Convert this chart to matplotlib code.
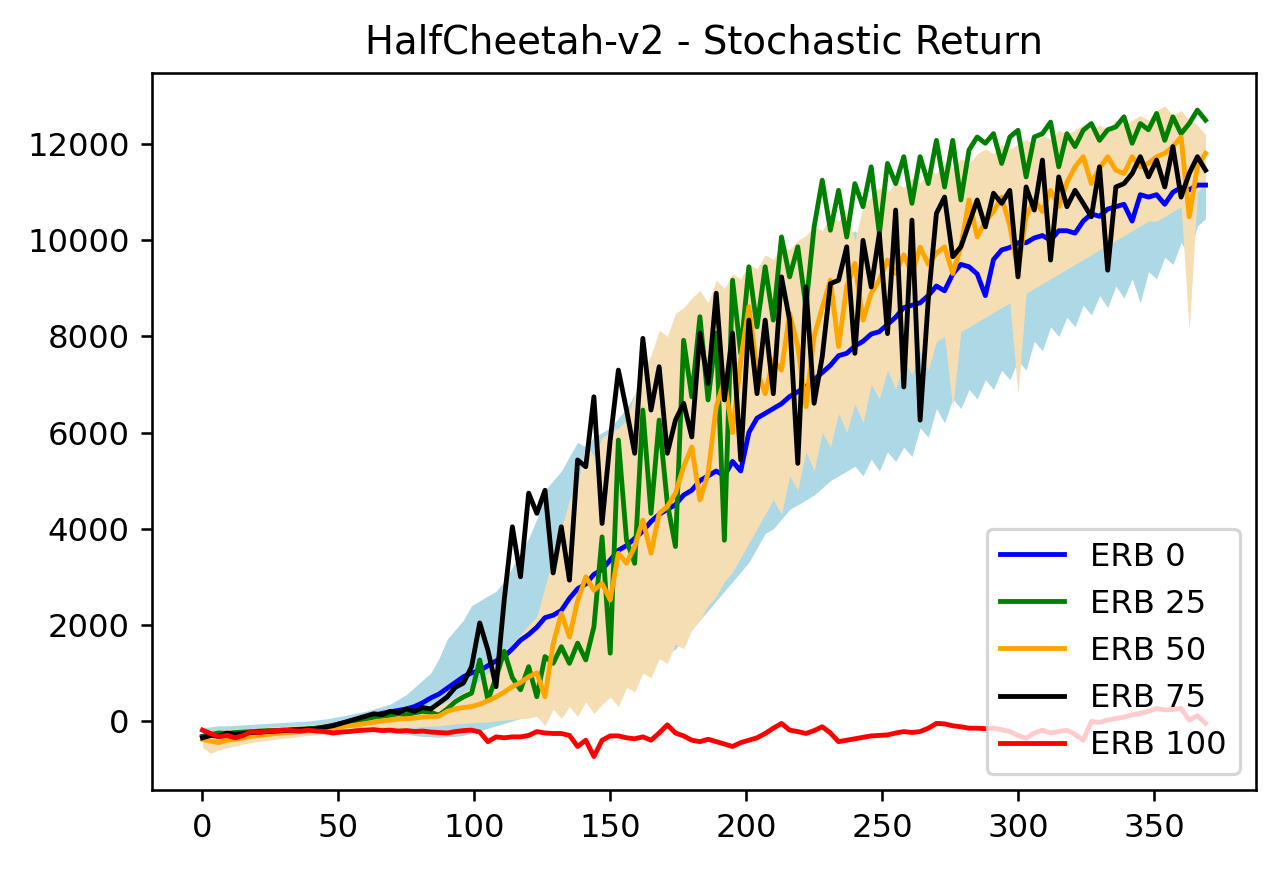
import numpy as np
import matplotlib
matplotlib.use("Agg")
import matplotlib.pyplot as plt

# evaluation steps (every 3rd iteration)
steps = np.arange(0, 370, 3)

erb0 = [
    -320, -280, -300, -260, -280, -250, -240, -230, -220, -210,
    -200, -190, -180, -170, -150, -130, -90, -50, -10, 30,
    70, 110, 160, 190, 220, 250, 300, 380, 480, 560,
    680, 800, 920, 1000, 1050, 1150, 1250, 1340, 1500, 1680,
    1800, 1950, 2150, 2200, 2300, 2550, 2750, 2850, 3050, 3150,
    3350, 3550, 3650, 3800, 3950, 4150, 4300, 4400, 4500, 4700,
    4800, 5000, 5100, 5200, 5100, 5400, 5200, 6000, 6300, 6400,
    6500, 6600, 6750, 6850, 6950, 7100, 7250, 7400, 7600, 7650,
    7800, 7900, 8050, 8100, 8250, 8400, 8600, 8650, 8700, 8850,
    9050, 8950, 9300, 9500, 9450, 9300, 8850, 9600, 9800, 9850,
    9950, 9950, 10050, 10100, 10000, 10200, 10200, 10150, 10400, 10550,
    10500, 10650, 10700, 10750, 10400, 10950, 10900, 10950, 10750, 11000,
    11100, 11050, 11150, 11150]

erb25 = [
    -330, -280, -250, -260, -240, -230, -220, -210, -200, -200,
    -190, -180, -170, -160, -150, -120, -100, -60, -20, 10,
    40, 80, 100, 120, 150, 130, 170, 200, 180, 120,
    250, 400, 500, 580, 1270, 440, 900, 1450, 900, 650,
    1130, 505, 1340, 1200, 1545, 1200, 1620, 1270, 1960, 3830,
    1410, 5845, 3760, 3280, 6470, 4320, 6260, 4530, 3630, 7920,
    6745, 8410, 6680, 8070, 3760, 9170, 7650, 9450, 8200, 9450,
    8340, 10070, 9240, 9865, 8620, 10280, 11250, 10210, 11040, 10070,
    11180, 10700, 11530, 10140, 11600, 11180, 11740, 10770, 11740, 11180,
    12080, 11110, 12080, 10840, 11880, 12150, 12020, 12220, 11600, 12150,
    12290, 11320, 12150, 12220, 12460, 11530, 12220, 11950, 12290, 12430,
    12080, 12300, 12360, 12570, 12020, 12430, 12300, 12640, 12080, 12570,
    12220, 12430, 12710, 12500]

erb50 = [
    -380, -420, -450, -400, -380, -350, -320, -300, -280, -260,
    -250, -230, -220, -200, -190, -170, -150, -120, -100, -80,
    -50, -30, 0, 20, 40, 50, 60, 80, 90, 100,
    200, 250, 280, 300, 350, 420, 500, 600, 714, 800,
    920, 1000, 505, 1600, 2240, 1750, 2500, 3000, 2720, 2860,
    2517, 3490, 3280, 3630, 4180, 3490, 4320, 4460, 4740, 5290,
    5700, 4600, 5150, 6540, 7090, 6000, 7510, 8620, 7300, 6810,
    7510, 7300, 8480, 7790, 6540, 8000, 8600, 9170, 7790, 9030,
    9520, 8340, 8900, 9170, 9590, 9310, 9700, 9310, 9860, 9500,
    9730, 9865, 9310, 9865, 10840, 10070, 10400, 10600, 10900, 10300,
    9380, 10500, 10840, 10600, 11040, 10700, 11200, 11530, 11740, 11180,
    11500, 11740, 11460, 11390, 11740, 11530, 11600, 11740, 11810, 11950,
    12150, 10490, 11530, 11810]

erb75 = [
    -350, -300, -320, -250, -280, -260, -240, -230, -220, -210,
    -200, -190, -180, -170, -160, -130, -100, -50, 0, 50,
    100, 150, 130, 200, 170, 250, 200, 280, 250, 374,
    500, 700, 790, 1130, 2040, 1475, 714, 2517, 4040, 3000,
    4740, 4320, 4800, 3080, 4040, 2930, 5430, 5290, 6745, 4110,
    5845, 7300, 6470, 5570, 7960, 6470, 7370, 5570, 6260, 6610,
    5910, 8070, 7020, 8900, 6680, 8070, 5430, 8340, 6810, 8340,
    6810, 9240, 8340, 5360, 9030, 6610, 7580, 9100, 9170, 9865,
    7650, 10000, 9030, 10140, 8060, 10630, 6950, 10420, 6260, 8760,
    10560, 10900, 9660, 9865, 10350, 10840, 10280, 10980, 10770, 11040,
    9240, 11110, 10630, 11670, 9590, 11320, 10700, 11040, 10770, 10490,
    11530, 9380, 11110, 11180, 11390, 11740, 11320, 11670, 11110, 11950,
    10900, 11390, 11740, 11460]

erb100 = [
    -190, -260, -330, -300, -350, -300, -220, -240, -210, -200,
    -190, -200, -210, -190, -210, -220, -250, -230, -220, -200,
    -190, -180, -200, -190, -210, -200, -220, -210, -230, -240,
    -250, -220, -200, -190, -230, -430, -330, -350, -330, -330,
    -300, -220, -250, -260, -260, -300, -530, -400, -740, -400,
    -310, -310, -350, -370, -330, -400, -250, -80, -250, -310,
    -400, -430, -380, -430, -480, -530, -450, -400, -350, -260,
    -150, -50, -190, -220, -260, -200, -120, -250, -430, -400,
    -370, -340, -310, -300, -290, -250, -220, -240, -220, -150,
    -50, -60, -100, -120, -150, -150, -160, -150, -180, -220,
    -300, -360, -250, -190, -250, -220, -190, -280, -400, -10,
    -30, 20, 50, 80, 130, 160, 200, 260, 230, 240,
    260, 20, 110, -50]

# spread of ERB 0 runs
erb0_low = [
    -450, -500, -480, -420, -400, -380, -350, -330, -320, -300,
    -290, -280, -270, -260, -250, -240, -230, -220, -200, -180,
    -200, -220, -230, -250, -260, -280, -300, -320, -330, -340,
    -330, -320, -300, -250, -200, -150, -100, -50, 0, 50,
    100, 150, 200, 250, 300, 350, 400, 450, 500, 550,
    600, 700, 800, 900, 1000, 1150, 1300, 1400, 1500, 1700,
    1900, 2100, 2300, 2500, 2700, 2900, 3100, 3300, 3600, 3900,
    4000, 4200, 4400, 4500, 4600, 4700, 4850, 5000, 5100, 5200,
    5300, 5100, 5450, 5200, 5600, 5400, 5700, 5500, 6100, 5900,
    6500, 6200, 6700, 6500, 6900, 6700, 7100, 6900, 7300, 7100,
    7500, 7300, 7900, 7700, 8200, 8000, 8400, 8200, 8650, 8450,
    8850, 8600, 9050, 8800, 9200, 8700, 9350, 9200, 9650, 9500,
    9950, 9700, 10300, 10450]

erb0_high = [
    -150, -120, -100, -100, -90, -80, -70, -60, -50, -40,
    -30, -20, -10, 0, 20, 40, 70, 100, 130, 170,
    200, 250, 300, 350, 450, 550, 700, 850, 1000, 1300,
    1700, 1900, 2100, 2400, 2500, 2600, 2700, 2900, 3200, 3500,
    3800, 4200, 4800, 5000, 5200, 5500, 5800, 5700, 5900, 6000,
    6100, 6300, 6500, 6800, 7000, 7200, 7400, 7600, 7800, 8000,
    8200, 8400, 8500, 8600, 8700, 8800, 8900, 9000, 9100, 9200,
    9300, 9400, 9400, 9500, 9600, 9700, 9800, 9900, 10000, 10100,
    10200, 10000, 10300, 10200, 10400, 10300, 10500, 10400, 10600, 10500,
    10700, 10600, 10800, 10700, 10900, 10800, 11000, 10900, 11100, 11000,
    11200, 11100, 11200, 11300, 11200, 11300, 11400, 11300, 11400, 11500,
    11400, 11500, 11600, 11500, 11600, 11700, 11600, 11700, 11800, 11700,
    11800, 11900, 11800, 11900]

# spread of ERB 50 runs
erb50_low = [
    -550, -670, -600, -560, -520, -480, -450, -420, -400, -380,
    -360, -340, -320, -300, -290, -280, -260, -240, -230, -220,
    -200, -190, -180, -160, -150, -140, -130, -120, -110, -100,
    -80, -60, -50, -40, -30, -20, 0, 20, 30, 50,
    60, 100, -100, 250, 50, 300, 100, 400, 150, 350,
    500, 300, 700, 600, 1000, 900, 1300, 1200, 1600, 1500,
    1900, 2100, 2400, 2600, 2900, 3100, 3400, 3700, 4000, 4300,
    4600, 4300, 5100, 4800, 5600, 5200, 6000, 5700, 6400, 6000,
    6600, 6200, 7000, 6700, 7300, 6900, 7500, 7200, 7700, 7300,
    7900, 8000, 6500, 8100, 8200, 8300, 8400, 8500, 8600, 8700,
    6800, 8900, 9000, 9100, 9200, 9300, 9400, 9500, 9600, 9700,
    9800, 9900, 10000, 10100, 10200, 10300, 10400, 10400, 10500, 10600,
    10700, 8130, 11000, 11200]

erb50_high = [
    -250, -200, -200, -180, -170, -160, -150, -140, -130, -120,
    -110, -100, -90, -80, -70, -60, -50, -30, -10, 10,
    30, 50, 80, 100, 130, 160, 200, 230, 280, 330,
    400, 500, 600, 700, 850, 1000, 1200, 1400, 1600, 1800,
    2000, 2170, 2800, 3400, 4000, 4600, 4870, 5780, 5500, 5900,
    6000, 6100, 6260, 6800, 7300, 7600, 8130, 8000, 8480, 8600,
    8800, 8960, 8700, 9170, 9000, 9300, 9200, 9500, 9400, 9700,
    9600, 9900, 9800, 10000, 10100, 10300, 10200, 10500, 10400, 10600,
    10000, 10700, 10900, 11100, 11000, 11200, 11100, 11300, 11200, 11400,
    11400, 11600, 11500, 11700, 11600, 11800, 11900, 11800, 12000, 11900,
    12000, 12100, 12000, 12200, 12100, 12300, 12200, 12300, 12400, 12300,
    12400, 12300, 12500, 12400, 12500, 12600, 12500, 12700, 12800, 12600,
    12700, 12500, 12400, 12200]

for arr in (erb0, erb25, erb50, erb75, erb100,
            erb0_low, erb0_high, erb50_low, erb50_high):
    assert len(arr) == len(steps), len(arr)

# text and lines in the source are ~16% bigger than at 200 dpi
dpi = 232
fig, ax = plt.subplots(figsize=(1280 / dpi, 870 / dpi), dpi=dpi)
fig.subplots_adjust(left=0.119, right=0.981, top=0.916, bottom=0.092)

# bands first so the mean curves sit on top
ax.fill_between(steps, erb0_low, erb0_high, color='lightblue', linewidth=0)
ax.fill_between(steps, erb50_low, erb50_high, color='wheat', linewidth=0)

ax.plot(steps, erb0, color='blue', label='ERB 0')
ax.plot(steps, erb25, color='green', label='ERB 25')
ax.plot(steps, erb50, color='orange', label='ERB 50')
ax.plot(steps, erb75, color='black', label='ERB 75')
ax.plot(steps, erb100, color='red', label='ERB 100')

ax.set_ylim(-1435, 13480)
ax.set_title("HalfCheetah-v2 - Stochastic Return")
ax.legend(loc='lower right')

fig.savefig("out.png", dpi=dpi)
